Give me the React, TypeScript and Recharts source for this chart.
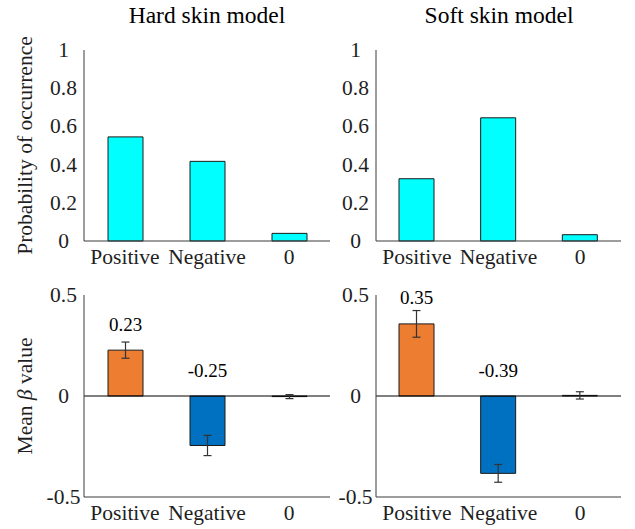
import React from "react";
import { BarChart, Bar, XAxis, YAxis, Cell, ErrorBar, LabelList, ReferenceLine } from "recharts";

const categories = ["Positive", "Negative", "0"];

const hardProb = [0.545, 0.417, 0.04];
const softProb = [0.326, 0.645, 0.033];

const hardBeta = [0.227, -0.245, -0.003];
const hardErr = [0.04, 0.05, 0.01];
const hardLabels = ["0.23", "-0.25", ""];

const softBeta = [0.357, -0.383, 0.003];
const softErr = [0.066, 0.044, 0.018];
const softLabels = ["0.35", "-0.39", ""];

const probTicks = [0, 0.2, 0.4, 0.6, 0.8, 1];
const betaTicks = [-0.5, 0, 0.5];

const betaColors = ["#ED7D31", "#0070C0", "#7f7f7f"];

const FONT = "Liberation Serif";
const AXIS = "#3a3a3a";
const TEXT = "#1f1f1f";

const probData = (vals: number[]) => categories.map((name, i) => ({ name, value: vals[i] }));
const betaData = (vals: number[], errs: number[], labels: string[]) =>
  categories.map((name, i) => ({ name, value: vals[i], err: errs[i], label: labels[i] }));

const YTick = (props: any) => (
  <text
    x={props.x - 12.5}
    y={props.y}
    textAnchor="middle"
    dominantBaseline="central"
    fontFamily={FONT}
    fontSize={21.5}
    fill={TEXT}
  >
    {String(props.payload.value)}
  </text>
);

const XTick = (props: any) => (
  <text
    x={props.x}
    y={props.y + 8}
    textAnchor="middle"
    dominantBaseline="central"
    fontFamily={FONT}
    fontSize={21.5}
    fill={TEXT}
  >
    {props.payload.value}
  </text>
);

const yLabel = (text: React.ReactNode) => (props: any) => {
  const vb = props.viewBox;
  const cx = vb.x + 25;
  const cy = vb.y + vb.height / 2;
  return (
    <text
      x={cx}
      y={cy}
      transform={`rotate(-90, ${cx}, ${cy})`}
      textAnchor="middle"
      dominantBaseline="central"
      fontFamily={FONT}
      fontSize={21.5}
      fill={TEXT}
    >
      {text}
    </text>
  );
};

const valueLabel = (props: any) => {
  const { x, y, width, height, value } = props;
  if (!value) return null;
  const top = Math.min(y, y + height);
  return (
    <text
      x={x + width / 2}
      y={top - 26}
      textAnchor="middle"
      dominantBaseline="central"
      fontFamily={FONT}
      fontSize={19}
      fill="#000"
    >
      {value}
    </text>
  );
};

function ProbChart({ vals, yAxisWidth, ylabel }: { vals: number[]; yAxisWidth: number; ylabel?: string }) {
  return (
    <BarChart
      width={yAxisWidth === 84 ? 335 : 305}
      height={270}
      data={probData(vals)}
      margin={{ top: 50, right: yAxisWidth === 84 ? 5 : 4, bottom: 4, left: 0 }}
      barSize={35}
    >
      <XAxis
        dataKey="name"
        interval={0}
        tickLine={false}
        height={25}
        stroke={AXIS}
        tick={<XTick />}
      />
      <YAxis
        type="number"
        domain={[0, 1]}
        ticks={probTicks}
        width={yAxisWidth}
        tickLine={false}
        stroke={AXIS}
        tick={<YTick />}
        label={ylabel ? { content: yLabel(ylabel) } : undefined}
      />
      <Bar dataKey="value" fill="#00FFFF" stroke="#1a1a1a" strokeWidth={1} isAnimationActive={false} />
    </BarChart>
  );
}

function BetaChart({
  vals,
  errs,
  labels,
  yAxisWidth,
  ylabel,
}: {
  vals: number[];
  errs: number[];
  labels: string[];
  yAxisWidth: number;
  ylabel?: boolean;
}) {
  return (
    <BarChart
      width={yAxisWidth === 84 ? 335 : 305}
      height={259}
      data={betaData(vals, errs, labels)}
      margin={{ top: 25, right: yAxisWidth === 84 ? 5 : 4, bottom: 4, left: 0 }}
      barSize={35}
    >
      <XAxis
        dataKey="name"
        interval={0}
        tickLine={false}
        height={28}
        stroke={AXIS}
        tick={<XTick />}
      />
      <YAxis
        type="number"
        domain={[-0.5, 0.5]}
        ticks={betaTicks}
        width={yAxisWidth}
        tickLine={false}
        stroke={AXIS}
        tick={<YTick />}
        label={
          ylabel
            ? {
                content: yLabel(
                  <>
                    Mean <tspan fontStyle="italic">β</tspan> value
                  </>
                ),
              }
            : undefined
        }
      />
      <ReferenceLine y={0} stroke="#000" strokeWidth={1} />
      <Bar dataKey="value" stroke="#1a1a1a" strokeWidth={1} isAnimationActive={false}>
        {categories.map((c, i) => (
          <Cell key={c} fill={betaColors[i]} />
        ))}
        <ErrorBar dataKey="err" width={4} stroke="#333" strokeWidth={1.2} direction="y" isAnimationActive={false} />
        <LabelList dataKey="label" content={valueLabel} />
      </Bar>
    </BarChart>
  );
}

const titleStyle: React.CSSProperties = {
  position: "absolute",
  top: 2,
  fontSize: 23.5,
  lineHeight: "26px",
  color: "#000",
  textAlign: "center",
  width: 250,
};

export default function App() {
  return (
    <div
      style={{
        position: "absolute",
        left: 0,
        top: 0,
        width: 635,
        height: 529,
        background: "#fff",
        fontFamily: FONT,
      }}
    >
      <div style={{ ...titleStyle, left: 207 - 125 }}>Hard skin model</div>
      <div style={{ ...titleStyle, left: 499 - 125 }}>Soft skin model</div>
      <div style={{ position: "absolute", left: 0, top: 0 }}>
        <ProbChart vals={hardProb} yAxisWidth={84} ylabel="Probability of occurrence" />
      </div>
      <div style={{ position: "absolute", left: 320, top: 0 }}>
        <ProbChart vals={softProb} yAxisWidth={56} />
      </div>
      <div style={{ position: "absolute", left: 0, top: 270 }}>
        <BetaChart vals={hardBeta} errs={hardErr} labels={hardLabels} yAxisWidth={84} ylabel />
      </div>
      <div style={{ position: "absolute", left: 320, top: 270 }}>
        <BetaChart vals={softBeta} errs={softErr} labels={softLabels} yAxisWidth={56} />
      </div>
    </div>
  );
}
